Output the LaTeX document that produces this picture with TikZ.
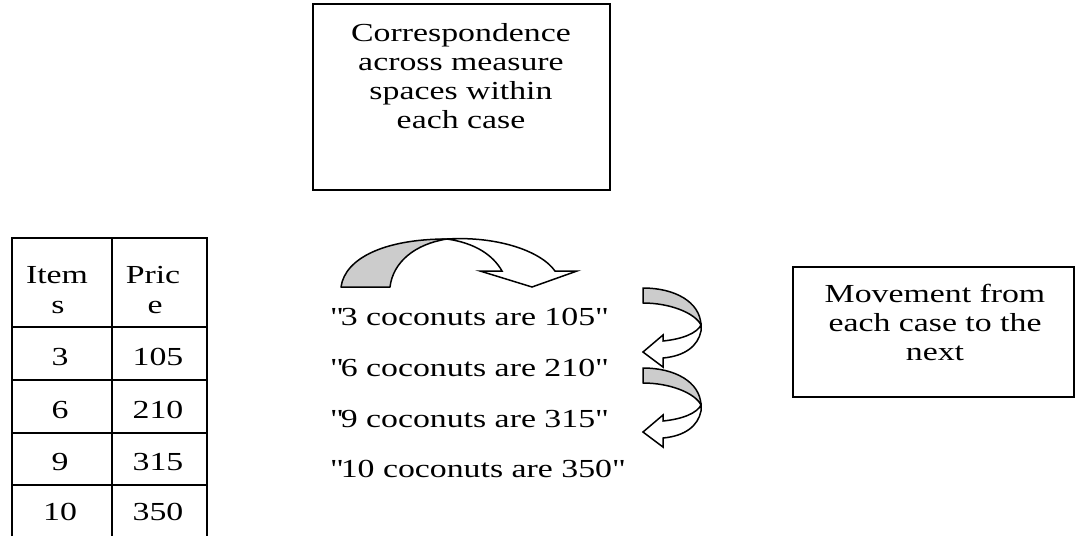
\documentclass[tikz,border=0pt]{standalone}
\usepackage{fontspec}
\setmainfont{Liberation Serif}[FakeStretch=1.3]
\begin{document}
\begin{tikzpicture}[x=1pt,y=-1pt,
  frame/.style={draw=black, line width=1.5pt},
  txt/.style={inner sep=0pt, anchor=base, font=\fontsize{26}{29}\selectfont},
  mtxt/.style={txt, align=center},
  back/.style={draw=black, line width=1.5pt, fill=black!20, line join=round},
  front/.style={draw=black, line width=1.5pt, fill=white, line join=miter}]
\useasboundingbox (0,0) rectangle (1076,536);

% top box
\node[frame, minimum width=297pt, minimum height=186pt, inner sep=0pt] (topbox) at (461.5,97) {};
\node[mtxt] (toptext) at (461,128) {Correspondence\\across measure\\spaces within\\each case};

% right box
\node[frame, minimum width=281pt, minimum height=130pt, inner sep=0pt] (rightbox) at (933.5,332) {};
\node[mtxt] (righttext) at (935,360) {Movement from\\each case to the\\next};

% table
\draw[frame] (12,536) -- (12,238) -- (207,238) -- (207,536);
\draw[frame] (112,238) -- (112,536);
\foreach \yy in {327,380,433,485} \draw[frame] (12,\yy) -- (207,\yy);
\node[txt] (h1a) at (57,283) {Item};
\node[txt] (h1b) at (58,313) {s};
\node[txt] (h2a) at (153,283) {Pric};
\node[txt] (h2b) at (155,313) {e};
\node[txt] (a1) at (60,365) {3};
\node[txt] (b1) at (158,365) {105};
\node[txt] (a2) at (60,418) {6};
\node[txt] (b2) at (158,418) {210};
\node[txt] (a3) at (60,470) {9};
\node[txt] (b3) at (158,470) {315};
\node[txt] (a4) at (60,520) {10};
\node[txt] (b4) at (158,520) {350};

% statements
\node[txt, anchor=base west] (s1) at (330,325) {\textquotedbl 3 coconuts are 105\textquotedbl};
\node[txt, anchor=base west] (s2) at (330,376) {\textquotedbl 6 coconuts are 210\textquotedbl};
\node[txt, anchor=base west] (s3) at (330,427) {\textquotedbl 9 coconuts are 315\textquotedbl};
\node[txt, anchor=base west] (s4) at (330,477) {\textquotedbl 10 coconuts are 350\textquotedbl};

% top curved down arrow
\draw[back] (341,287) .. controls (345,258) and (385,239) .. (447,239)
  .. controls (415,244) and (393,262) .. (390,287) -- cycle;
\draw[front] (447,239) .. controls (495,236) and (540,250) .. (555,271)
  -- (577,271) -- (532,287) -- (480,271) -- (502,271)
  .. controls (493,255) and (475,243) .. (447,239) -- cycle;

% right curved left arrows
\foreach \dy in {0,80} {
  \begin{scope}[yshift=-\dy pt]
  \draw[back] (643,288) .. controls (675,288) and (700,302) .. (701,325)
    .. controls (695,313) and (670,303) .. (643,303) -- cycle;
  \draw[front] (701,325) -- (701,331)
    .. controls (698,346) and (685,356) .. (663,358)
    -- (663,367) -- (643,352) -- (663,335) -- (663,341)
    .. controls (683,339) and (697,333) .. (701,325) -- cycle;
  \end{scope}
}
\end{tikzpicture}
\end{document}
